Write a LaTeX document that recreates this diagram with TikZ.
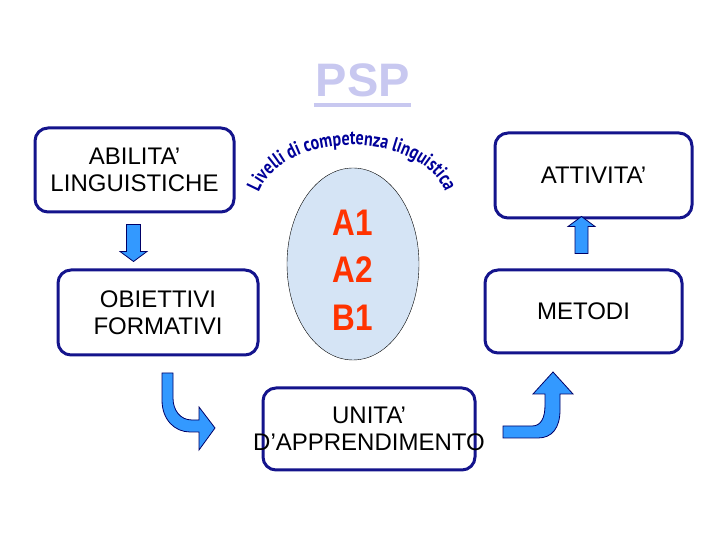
\documentclass[tikz,border=0pt]{standalone}
\usepackage{fontspec}
\setmainfont{Liberation Sans}
\newfontfamily\curvefont[FakeStretch=0.8]{PT Sans}
\usetikzlibrary{shapes.geometric,decorations.text,calc}

\definecolor{boxblue}{RGB}{20,20,140}
\definecolor{arrowfill}{RGB}{51,153,255}
\definecolor{arrowline}{RGB}{0,0,102}
\definecolor{ovalfill}{RGB}{213,228,245}
\definecolor{levelred}{RGB}{255,51,0}
\definecolor{pspcolor}{RGB}{200,200,240}
\definecolor{curveblue}{RGB}{0,0,153}

\newcommand{\lev}[1]{\scalebox{0.85}[1]{#1}}

\begin{document}
\begin{tikzpicture}[x=1pt,y=1pt,
  box/.style={draw=boxblue, line width=3pt, rounded corners=13pt, align=center,
    font=\fontsize{24}{27}\selectfont},
  barrow/.style={fill=arrowfill, draw=arrowline, line width=0.8pt}]
  \useasboundingbox (0,0) rectangle (720,540);

  % title
  \node[font=\fontsize{47}{50}\selectfont\bfseries, text=pspcolor, inner sep=0pt, anchor=base] (psp) at (363,443) {PSP};
  \draw[pspcolor, line width=4pt] ([xshift=-2pt,yshift=-8pt]psp.base west) -- ([xshift=1pt,yshift=-8pt]psp.base east);

  % boxes
  \node[box, minimum width=199pt, minimum height=84pt] (abil) at (134.5,370) {ABILITA’\\LINGUISTICHE};
  \node[box, minimum width=200pt, minimum height=85pt] (obiet) at (158,227.5) {OBIETTIVI\\FORMATIVI};
  \node[box, minimum width=197pt, minimum height=85pt] (attiv) at (593.5,364.5) {ATTIVITA’};
  \node[box, minimum width=197pt, minimum height=83pt] (metodi) at (583.5,228.5) {METODI};
  \node[box, minimum width=212pt, minimum height=82pt] (unita) at (369,111) {UNITA’\\\makebox[0pt]{D’APPRENDIMENTO}};

  % levels
  \node[ellipse, draw, thin, fill=ovalfill, minimum width=132pt, minimum height=192pt] (levels) at (353,276) {};
  \node[font=\fontsize{37}{47.5}\selectfont\bfseries, text=levelred, align=center] (lvtext) at ([yshift=-6pt]levels.center) {\lev{A1}\\\lev{A2}\\\lev{B1}};
  \coordinate (lvc) at (352,333);
  \path[decorate, decoration={text along path, text color=curveblue, text align=center,
      text={|\curvefont\bfseries\fontsize{20}{20}\selectfont|Livelli di competenza linguistica}}]
    ($(lvc)+(168:96 and 62)$) arc[start angle=168, end angle=12, x radius=96, y radius=62];

  % straight arrows
  \draw[barrow] ([xshift=-8pt,yshift=-11pt]abil.south) -- ++(0,-27) -- ++(-6.5,0) -- ++(13.5,-10)
    -- ++(13.5,10) -- ++(-6.5,0) -- ++(0,27) -- cycle;
  \draw[barrow] ([xshift=-8.5pt,yshift=15pt]metodi.north) -- ++(0,27) -- ++(-7,0) -- ++(13.5,10)
    -- ++(13.5,-10) -- ++(-7,0) -- ++(0,-27) -- cycle;

  % curved arrows
  \draw[barrow] (162,167) -- (162,140) .. controls (162,120) and (175,108) .. (190,108)
    -- (199,108) -- (199,90) -- (215,112) -- (199,133) -- (199,120) -- (192,120)
    .. controls (180,120) and (173,130) .. (173,142) -- (173,167) -- cycle;
  \draw[barrow] (503,114) -- (532,114) .. controls (541,114) and (545,122) .. (545,135)
    -- (545,146) -- (533,146) -- (553,168) -- (573,146) -- (560,146) -- (560,130)
    .. controls (560,112) and (552,102) .. (538,102) -- (503,102) -- cycle;
\end{tikzpicture}
\end{document}
